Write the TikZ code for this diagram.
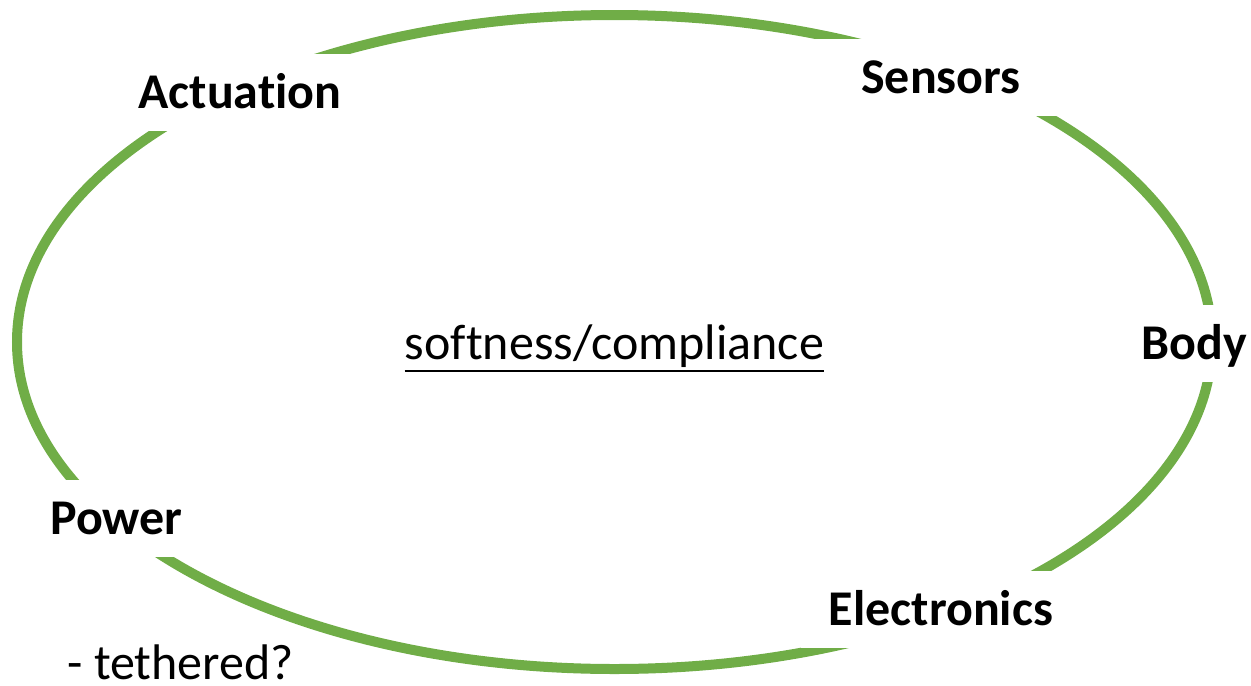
\documentclass[tikz,border=0pt]{standalone}
\usepackage{fontspec}
\setmainfont{Carlito}[Ligatures={NoCommon}]
\usepackage{tikz}
\usetikzlibrary{positioning,calc}
\definecolor{ringgreen}{HTML}{70AD47}
\tikzset{
  ring/.style={draw=ringgreen,line width=5pt},
  part/.style={fill=white,inner sep=0pt,minimum width=140pt,minimum height=38.5pt,
    text height=16pt,text depth=0pt,font=\fontsize{25}{30}\selectfont\bfseries},
  note/.style={inner sep=0pt,font=\fontsize{25}{30}\selectfont}
}

\begin{document}
\begin{tikzpicture}[x=0.5pt,y=-0.5pt]
\useasboundingbox (0,0) rectangle (1251,685);
\coordinate (O) at (614.5,342);
\draw[ring] (O) ellipse [x radius=298.75pt, y radius=163.5pt];
\node[part] (act) at (240,92) {Actuation};
\node[part] (sens) at (941,77) {Sensors};
\node[part] (body) at (1194,343) {Body};
\node[part] (pow) at (116.5,518) {Power};
\node[part] (elec) at (941,609) {Electronics};
\node[note,anchor=base] (soft) at (614.5,359) {softness/compliance};
\draw[line width=1.2pt] ([yshift=-6pt]soft.base west) -- ([yshift=-6pt]soft.base east);
\node[note,anchor=base west] (teth) at (67,679) {- tethered?};
\end{tikzpicture}
\end{document}
